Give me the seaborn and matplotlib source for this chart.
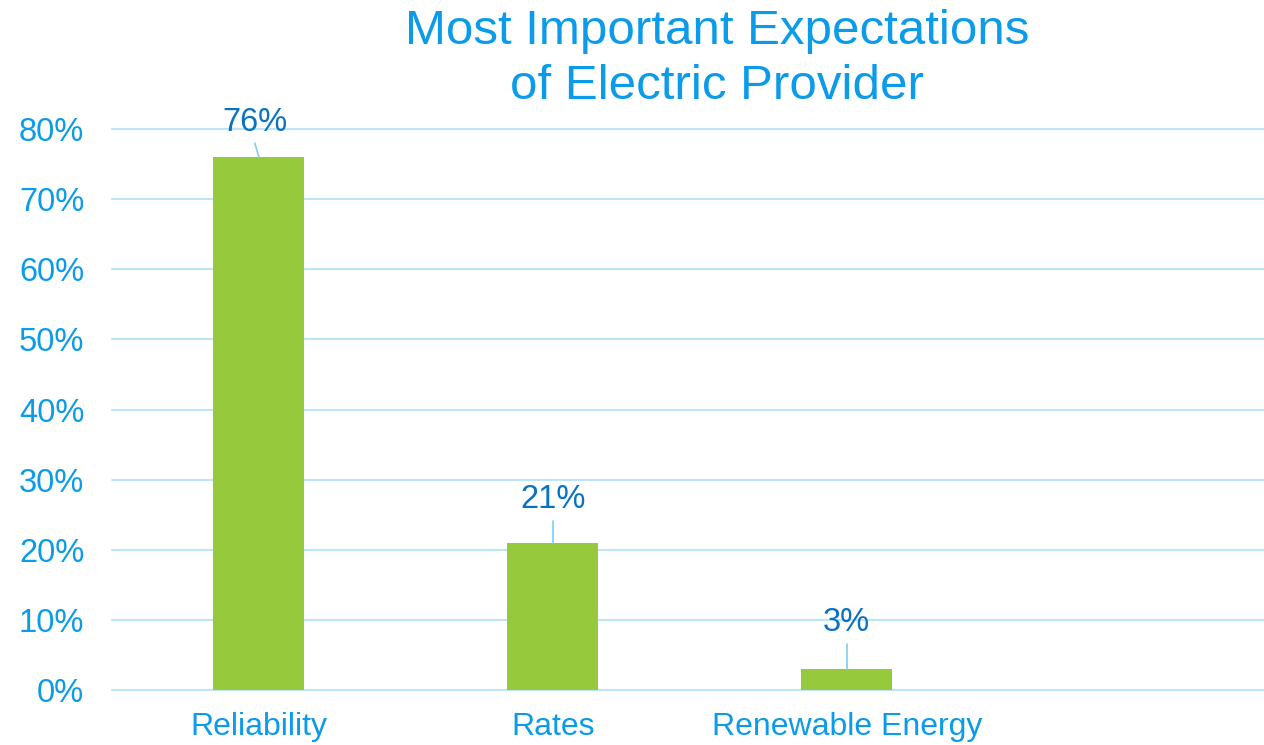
import matplotlib
matplotlib.use("Agg")
import matplotlib.pyplot as plt
import seaborn as sns
import pandas as pd

# Survey results: share of respondents naming each expectation as most important
categories = ["Reliability", "Rates", "Renewable Energy"]
values = [76, 21, 3]
label_heights = [81.0, 27.1, 9.6]
y_ticks = [0, 10, 20, 30, 40, 50, 60, 70, 80]

BAR = "#97C93D"
TICK_BLUE = "#0B9BE8"
LABEL_BLUE = "#0A72C2"
GRID = "#BEE4F9"
LEADER = "#7ECDF6"

sns.set_theme(style="white")
plt.rcParams["font.family"] = ["Liberation Sans", "DejaVu Sans"]

fig = plt.figure(figsize=(12.64, 7.45), dpi=100)
ax = fig.add_axes([0.0886, 0.0738, 0.9114, 0.753])

df = pd.DataFrame({"category": categories, "value": values})
sns.barplot(data=df, x="category", y="value", color=BAR, width=0.31,
            saturation=1, linewidth=0, ax=ax, zorder=3)

ax.set_ylim(0, 80)
ax.set_xlim(-0.5, 3.42)
ax.set_yticks(y_ticks)
ax.set_yticklabels([f"{t}%" for t in y_ticks])
ax.set_xlabel("")
ax.set_ylabel("")
for t in y_ticks:
    ax.axhline(t, color=GRID, lw=1.5, zorder=1, clip_on=False)
for s in ax.spines.values():
    s.set_visible(False)
ax.tick_params(axis="y", length=0, pad=20, labelsize=23.5, labelcolor=TICK_BLUE)
ax.tick_params(axis="x", length=0, pad=16, labelsize=23, labelcolor=TICK_BLUE)

# Value labels with short leader lines down to the bar tops
for i, (v, h) in enumerate(zip(values, label_heights)):
    x0 = i - 0.014 if i == 0 else i
    ax.text(x0, h, f"{v}%", ha="center", va="center", fontsize=23.5,
            color=LABEL_BLUE, clip_on=False, zorder=5)
    top = h - 3.0
    ax.plot([x0, i], [top, v], color=LEADER, lw=1.2, zorder=4, clip_on=False)

fig.text(0.567, 0.958, "Most Important Expectations", ha="center", va="center",
         fontsize=35.5, color=TICK_BLUE)
fig.text(0.567, 0.884, "of Electric Provider", ha="center", va="center",
         fontsize=35.5, color=TICK_BLUE)

fig.savefig("out.png", dpi=100, facecolor="white")
